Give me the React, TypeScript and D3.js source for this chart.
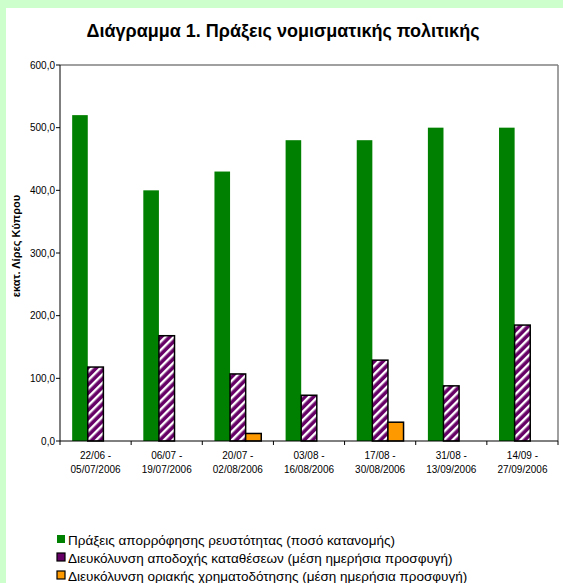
import React from "react";
import * as d3 from "d3";

const categories = [
  ["22/06 -", "05/07/2006"],
  ["06/07 -", "19/07/2006"],
  ["20/07 -", "02/08/2006"],
  ["03/08 -", "16/08/2006"],
  ["17/08 -", "30/08/2006"],
  ["31/08 -", "13/09/2006"],
  ["14/09 -", "27/09/2006"],
];
const absorption = [520, 400, 430, 480, 480, 500, 500];
const deposits = [118, 168, 107, 73, 129, 88, 185];
const lending = [0, 0, 12, 0, 30, 0, 0];
const yTicks = [0, 100, 200, 300, 400, 500, 600];
const seriesNames = [
  "Πράξεις απορρόφησης ρευστότητας (ποσό κατανομής)",
  "Διευκόλυνση αποδοχής καταθέσεων (μέση ημερήσια προσφυγή)",
  "Διευκόλυνση οριακής χρηματοδότησης (μέση ημερήσια προσφυγή)",
];

const W = 563;
const H = 583;
const plot = { left: 60, right: 558, top: 65, bottom: 441 };
const font = "'Liberation Sans', Arial, sans-serif";

export default function App() {
  const x = d3
    .scaleBand<number>()
    .domain(d3.range(categories.length))
    .range([plot.left, plot.right]);
  const y = d3.scaleLinear().domain([0, 600]).range([plot.bottom, plot.top]);
  const bw = 15.6;
  const groupW = bw * 3;
  const off = (x.bandwidth() - groupW) / 2;
  const fmt = (v: number) => v.toFixed(1).replace(".", ",");
  const series = [
    { data: absorption, fill: "#008000", stroke: "none", sw: 0 },
    { data: deposits, fill: "url(#hatch)", stroke: "#000", sw: 1.5 },
    { data: lending, fill: "#ff9900", stroke: "#000", sw: 1.5 },
  ];
  const bounds = d3.range(categories.length + 1).map((i) =>
    i < categories.length ? (x(i) as number) : plot.right
  );

  return (
    <svg
      width={W}
      height={H}
      style={{ position: "absolute", left: 0, top: 0, display: "block" }}
      fontFamily={font}
    >
      <defs>
        <pattern
          id="hatch"
          patternUnits="userSpaceOnUse"
          width="6"
          height="6"
          patternTransform="rotate(45)"
        >
          <rect width="6" height="6" fill="#660066" />
          <rect width="2.4" height="6" fill="#ffffff" />
        </pattern>
      </defs>
      <rect x={0} y={0} width={W} height={H} fill="#ccffcc" />
      <rect x={6} y={8} width={W - 6} height={H - 8} fill="#ffffff" />
      <text
        x={283}
        y={37}
        textAnchor="middle"
        fontSize={18}
        fontWeight="bold"
        fill="#000"
      >
        Διάγραμμα 1. Πράξεις νομισματικής πολιτικής
      </text>
      {/* plot border */}
      <line x1={plot.left} x2={plot.right} y1={plot.top} y2={plot.top} stroke="#808080" strokeWidth={1.5} />
      <line x1={plot.right} x2={plot.right} y1={plot.top} y2={plot.bottom} stroke="#808080" strokeWidth={1.5} />
      {/* bars */}
      {series.map((s, si) =>
        s.data.map((v, i) =>
          v > 0 ? (
            <rect
              key={`${si}-${i}`}
              x={(x(i) as number) + off + si * bw}
              y={y(v)}
              width={bw}
              height={y(0) - y(v)}
              fill={s.fill}
              stroke={s.stroke}
              strokeWidth={s.sw}
            />
          ) : null
        )
      )}
      {/* y axis */}
      <line x1={plot.left} x2={plot.left} y1={plot.top} y2={plot.bottom} stroke="#000" strokeWidth={1} />
      {yTicks.map((t) => (
        <g key={t}>
          <line x1={plot.left - 4} x2={plot.left} y1={y(t)} y2={y(t)} stroke="#000" />
          <text x={plot.left - 5} y={y(t) + 3.5} textAnchor="end" fontSize={10} fill="#000">
            {fmt(t)}
          </text>
        </g>
      ))}
      <text
        transform={`translate(20,246) rotate(-90)`}
        textAnchor="middle"
        fontSize={11}
        fontWeight="bold"
        fill="#000"
      >
        εκατ. Λίρες Κύπρου
      </text>
      {/* x axis */}
      <line x1={plot.left} x2={plot.right} y1={plot.bottom} y2={plot.bottom} stroke="#000" strokeWidth={1} />
      {bounds.map((b, i) => (
        <line key={i} x1={b} x2={b} y1={plot.bottom} y2={plot.bottom + 4} stroke="#000" />
      ))}
      {categories.map((c, i) => {
        const cx = (x(i) as number) + x.bandwidth() / 2;
        return (
          <text key={i} x={cx} textAnchor="middle" fontSize={10} fill="#000">
            <tspan x={cx} y={459}>{c[0]}</tspan>
            <tspan x={cx} y={473}>{c[1]}</tspan>
          </text>
        );
      })}
      {/* legend */}
      {seriesNames.map((n, i) => {
        const ly = 540 + i * 18;
        const s = series[i];
        return (
          <g key={i}>
            <rect
              x={57}
              y={ly - 5}
              width={8}
              height={8}
              fill={i === 1 ? "#660066" : s.fill}
              stroke={i === 0 ? "none" : "#000"}
              strokeWidth={1.2}
            />
            <text x={68} y={ly + 4.5} fontSize={13.5} fill="#000">
              {n}
            </text>
          </g>
        );
      })}
    </svg>
  );
}
